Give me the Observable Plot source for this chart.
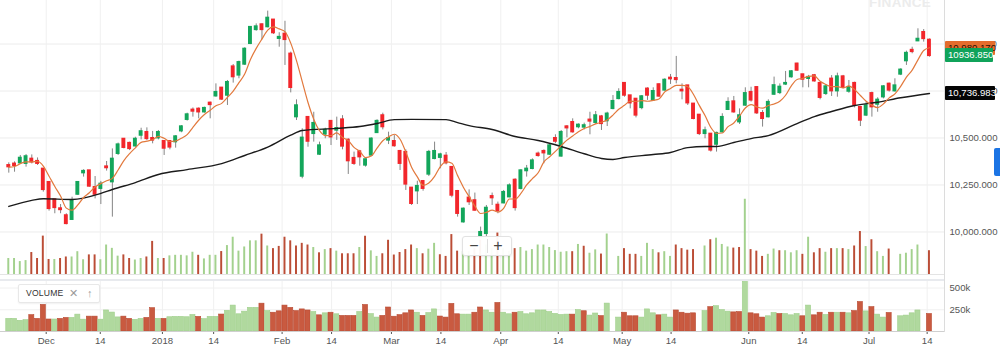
<!DOCTYPE html>
<html><head><meta charset="utf-8">
<script src="https://cdn.jsdelivr.net/npm/d3@7"></script>
<script src="https://cdn.jsdelivr.net/npm/@observablehq/plot@0.6"></script>
<style>
html,body{margin:0;padding:0;background:#fff;}
#wrap{position:relative;width:1000px;height:353px;overflow:hidden;background:#fff;font-family:"Liberation Sans",Arial,Helvetica,sans-serif;}
.layer{position:absolute;left:0;}
.box{position:absolute;left:945px;height:14px;line-height:14px;font-size:9.6px;padding-left:3px;box-sizing:border-box;border-radius:1px;}
</style></head><body><div id="wrap"></div>
<script>
// ---- data ----
const open = [10355,10363,10366,10363,10389,10377,10336,10265,10173,10125,10088,10065,10199,10313,10327,10238,10230,10348,10265,10416,10495,10473,10456,10513,10531,10499,10499,10483,10483,10478,10536,10597,10650,10655,10637,10687,10722,10767,10726,10880,10833,10891,11001,11075,11104,11090,11129,11028,11054,10948,10611,10295,10611,10522,10412,10519,10590,10540,10598,10490,10393,10428,10354,10407,10527,10620,10487,10483,10430,10425,10235,10217,10270,10306,10389,10395,10405,10345,10217,10052,10182,10168,9972,9990,10190,10144,10153,10185,10277,10230,10324,10336,10416,10430,10412,10499,10402,10561,10584,10558,10556,10597,10581,10614,10590,10655,10708,10792,10726,10708,10660,10762,10700,10785,10753,10820,10818,10756,10779,10682,10623,10522,10522,10465,10531,10650,10694,10584,10673,10744,10770,10632,10611,10731,10740,10785,10824,10895,10838,10815,10833,10792,10735,10815,10749,10827,10747,10792,10664,10620,10738,10678,10717,10788,10749,10838,10909,10968,11015,11063,11022];
const high = [10368,10373,10407,10412,10410,10394,10336,10265,10173,10146,10097,10185,10268,10331,10327,10295,10269,10375,10442,10473,10495,10478,10504,10552,10554,10535,10540,10487,10483,10513,10566,10632,10660,10660,10664,10691,10788,10767,10806,10891,10909,10980,11093,11107,11107,11175,11129,11060,11121,10957,10703,10549,10614,10637,10478,10552,10590,10611,10619,10496,10425,10434,10389,10501,10597,10632,10531,10513,10434,10437,10235,10270,10274,10434,10478,10419,10423,10345,10221,10128,10224,10207,10026,10141,10207,10159,10221,10256,10283,10331,10354,10389,10425,10437,10469,10517,10540,10566,10602,10575,10579,10637,10641,10620,10637,10726,10762,10792,10726,10708,10726,10767,10767,10788,10815,10838,10934,10788,10779,10682,10623,10558,10522,10531,10629,10714,10721,10655,10767,10770,10774,10646,10703,10824,10788,10854,10859,10898,10838,10833,10838,10792,10785,10832,10845,10833,10806,10797,10668,10691,10744,10714,10779,10792,10815,10868,10962,10983,11081,11077,11027];
const low = [10313,10318,10359,10345,10362,10354,10212,10111,10097,10097,10038,10061,10194,10292,10238,10176,10146,10324,10079,10407,10442,10433,10451,10490,10487,10469,10490,10407,10437,10446,10528,10590,10611,10602,10632,10602,10717,10700,10673,10792,10815,10886,10997,11068,11022,11086,11051,10983,10886,10740,10593,10283,10451,10478,10407,10496,10460,10487,10437,10306,10354,10350,10345,10402,10526,10543,10465,10451,10327,10221,10141,10146,10217,10295,10384,10336,10357,10182,10079,10047,10141,10111,9969,9972,10141,10097,10150,10182,10111,10224,10292,10331,10398,10363,10407,10469,10398,10501,10526,10549,10543,10517,10572,10540,10561,10650,10703,10717,10655,10607,10650,10700,10696,10717,10749,10785,10788,10703,10673,10597,10513,10496,10425,10425,10526,10646,10632,10572,10668,10691,10625,10558,10607,10726,10731,10779,10818,10855,10767,10767,10797,10703,10726,10721,10717,10762,10738,10660,10561,10614,10611,10637,10708,10744,10744,10832,10886,10948,11013,11010,10930];
const close = [10345,10352,10394,10402,10371,10363,10224,10123,10128,10117,10043,10168,10265,10324,10242,10199,10256,10340,10389,10465,10448,10442,10495,10535,10495,10487,10531,10444,10450,10508,10561,10625,10641,10637,10659,10676,10744,10705,10797,10824,10903,10974,11090,11093,11075,11139,11058,11037,11022,10767,10673,10501,10481,10579,10460,10543,10504,10552,10455,10377,10363,10398,10386,10496,10590,10558,10499,10457,10363,10253,10150,10244,10230,10425,10430,10412,10366,10194,10097,10123,10159,10114,9999,10128,10180,10111,10212,10247,10128,10327,10336,10380,10405,10419,10460,10481,10531,10552,10531,10570,10567,10588,10620,10575,10629,10696,10744,10726,10685,10620,10721,10726,10749,10721,10809,10813,10809,10749,10685,10602,10522,10540,10434,10526,10611,10691,10637,10620,10738,10700,10632,10602,10691,10780,10772,10792,10854,10859,10811,10824,10802,10714,10774,10749,10827,10767,10770,10673,10593,10673,10664,10703,10774,10753,10779,10863,10952,10958,11027,11027,10936.85];
// volume in thousands (null = no bar drawn)
const volume = [145,145,123,130,188,145,306,138,138,145,156,156,194,136,171,171,136,242,218,162,171,145,134,145,156,268,145,145,164,168,168,164,190,168,142,168,168,195,238,298,198,228,272,272,320,235,216,232,298,272,235,254,242,224,186,209,216,198,179,179,179,224,305,200,160,179,276,170,188,209,242,216,179,212,254,172,160,317,198,194,194,216,276,242,216,328,216,198,216,224,198,209,242,242,224,202,190,194,194,246,233,183,207,177,321,null,160,216,175,175,160,254,209,186,194,160,242,216,205,209,null,235,280,291,246,228,220,224,571,209,198,160,175,213,201,201,186,201,175,298,186,216,190,216,216,216,209,235,339,231,280,194,160,213,null,175,183,209,242,null,201];
// long moving average (black line), read at sampled bars
const maIndex = [0,4,6,11,16,18,22,26,31,37,41,45,49,51,57,61,64,67,70,76,78,80,84,88,92,96,100,103,105,107,112,115,118,121,123,126,129,132,137,140,143,147,151,155,160];
const maValue = [10136,10168,10177,10173,10205,10226,10263,10306,10332,10364,10407,10452,10515,10540,10551,10561,10577,10598,10599,10598,10582,10566,10545,10508,10487,10455,10416,10391,10386,10396,10412,10423,10449,10455,10455,10476,10497,10513,10577,10614,10641,10673,10690,10714,10736.983];
// x-axis ticks (bar index positions) and labels
const tickIndex = [6.5,15.9,26.7,35.6,47.5,56.1,66.5,75.1,85.5,95.5,106.6,115.1,128.6,137.9,149.5,159.6];
const tickLabel = ["Dec","14","2018","14","Feb","14","Mar","14","Apr","14","May","14","Jun","14","Jul","14"];
const priceTicks = [10000,10250,10500,10750,11000];
const volumeTicks = [250000,500000];

// ---- build ----
const bars = close.map((c,i)=>({i, open:open[i], high:high[i], low:low[i], close:c,
  volume: volume[i]==null ? null : volume[i]*1000, up: i===0 ? true : c >= close[i-1]}));
const volBars = bars.filter(d=>d.volume!=null);
const ma = maIndex.map((d,k)=>({i:d, v:maValue[k]}));

const FONT = "Liberation Sans, Arial, Helvetica, sans-serif";
const xOpts = {type:"linear", domain:[-1.44, 162.79]};
const base = {width:1000, marginLeft:0, marginRight:55};
const wrap = document.getElementById("wrap");
function place(el, top){ el.classList.add("layer"); el.style.top = top+"px"; wrap.appendChild(el); }

const main = Plot.plot({
  ...base, height:274, marginTop:0, marginBottom:0,
  style:{background:"transparent", fontFamily:FONT, fontSize:"9.6px", color:"#555"},
  color:{type:"identity"},
  x:{...xOpts, axis:null},
  y:{domain:[9773.8, 11231.5], axis:"right", ticks:priceTicks, tickFormat:d3.format(",.3f"), tickSize:0, tickPadding:4, label:null},
  marks:[
    Plot.ruleY(priceTicks, {stroke:"#ececec"}),
    Plot.ruleX(tickIndex, {stroke:"#f0f0f0"}),
    Plot.ruleX(bars, {x:"i", y1:"low", y2:"high", stroke:"#858585", strokeWidth:1}),
    Plot.rect(bars, {x1:d=>d.i-0.34, x2:d=>d.i+0.34, y1:"open", y2:"close",
      fill:d=>d.close>=d.open ? "#13a65b" : "#f2262b", insetTop:-0.7, insetBottom:-0.7}),
    Plot.line(ma, {x:"i", y:"v", stroke:"#1b1b1b", strokeWidth:1.4, curve:"monotone-x"}),
    Plot.line(bars, Plot.windowY({k:5, anchor:"end"}, {x:"i", y:"close", stroke:"#e2793d", strokeWidth:1.2, curve:"monotone-x"}))
  ]
});
place(main, 0);

const overlay = Plot.plot({
  ...base, height:79, marginTop:0, marginBottom:0,
  style:{background:"transparent"},
  color:{type:"identity"},
  x:{...xOpts, axis:null},
  y:{domain:[30000, 598000], clamp:true, axis:null},
  marks:[
    Plot.rect(volBars, {x1:d=>d.i-0.17, x2:d=>d.i+0.17, y1:()=>0, y2:"volume", fill:d=>d.up ? "#a3d18e" : "#bb4d36"})
  ]
});
place(overlay, 195);

const vol = Plot.plot({
  ...base, height:75, marginTop:3, marginBottom:22,
  style:{background:"transparent", fontFamily:FONT, fontSize:"9.6px", color:"#555"},
  color:{type:"identity"},
  x:{...xOpts, ticks:tickIndex, tickFormat:d=>tickLabel[tickIndex.indexOf(d)], tickSize:3, tickPadding:3, label:null},
  y:{domain:[0, 575000], axis:"right", ticks:volumeTicks, tickFormat:d3.format("~s"), tickSize:0, tickPadding:4, label:null},
  marks:[
    Plot.ruleY(volumeTicks, {stroke:"#f0f0f0"}),
    Plot.ruleX(tickIndex, {stroke:"#f0f0f0"}),
    Plot.rect(volBars, {x1:d=>d.i-0.44, x2:d=>d.i+0.44, y1:()=>0, y2:"volume",
      fill:d=>d.up ? "#b0d99e" : "#c95a40", stroke:d=>d.up ? "#9fcf8b" : "#b84a33", strokeWidth:0.6}),
    Plot.ruleY([0], {stroke:"#cfcfcf"})
  ]
});
place(vol, 278);

// ---- decorations ----
function div(css, html){ const d=document.createElement("div"); d.style.cssText="position:absolute;"+css; if(html!=null) d.innerHTML=html; wrap.appendChild(d); return d; }
div("left:0;top:274px;width:945px;height:1px;background:#e4e4e4;");
div("left:0;top:279px;width:945px;height:2px;background:#e8eaee;");
div("left:944px;top:0;width:1px;height:332px;background:#dcdcdc;");
div("left:869px;top:-5px;font-size:13.5px;font-weight:bold;color:#ececec;letter-spacing:0.3px;", "FINANCE");
div("left:994px;top:148px;width:6px;height:28px;background:#1b74e4;border-radius:2px 0 0 2px;");

// price labels at right, positioned through the plot's y scale
const ys = main.scale("y");
const yf = ys.apply ? v=>ys.apply(v) : d3.scaleLinear(ys.domain, ys.range);
const fastMA = d3.mean(close.slice(-5));
const lastClose = close[close.length-1];
const lastMA = maValue[maValue.length-1];
div(`top:${yf(fastMA)-6}px;`, "").className="box";
const ob = wrap.lastChild; ob.style.cssText += `top:${yf(fastMA)-6}px;width:50px;background:#e46c2d;color:#2a1200;`; ob.textContent=d3.format(",.3f")(fastMA);
const gb = div("", ""); gb.className="box"; gb.style.cssText += `top:${yf(lastClose)-7}px;width:48px;background:#10a35a;color:#fff;`; gb.textContent=d3.format(".3f")(lastClose);
const bb = div("", ""); bb.className="box"; bb.style.cssText += `top:${yf(lastMA)-7}px;width:50px;background:#050505;color:#fff;`; bb.textContent=d3.format(",.3f")(lastMA);

// zoom control
div("left:462px;top:236px;width:50px;height:20px;background:rgba(255,255,255,0.95);border:1px solid #e2e2e2;border-radius:3px;box-shadow:0 1px 2px rgba(0,0,0,0.08);box-sizing:border-box;");
div("left:468px;top:236px;width:12px;text-align:center;font-size:16px;line-height:20px;color:#444;", "−");
div("left:492px;top:236px;width:12px;text-align:center;font-size:16px;line-height:20px;color:#444;", "+");
div("left:487px;top:239px;width:1px;height:14px;background:#dedede;");

// volume legend
div("left:18px;top:284px;width:82px;height:19px;background:#fff;border:1px solid #e8e8e8;border-radius:2px;box-shadow:0 1px 2px rgba(0,0,0,0.06);box-sizing:border-box;");
div("left:26px;top:284px;line-height:19px;font-size:8.6px;color:#333;letter-spacing:0.2px;", "VOLUME");
div("left:69px;top:284px;line-height:19px;font-size:11px;color:#9a9a9a;", "✕");
div("left:87px;top:284px;line-height:19px;font-size:11px;color:#9a9a9a;", "↑");
</script>
</body></html>
